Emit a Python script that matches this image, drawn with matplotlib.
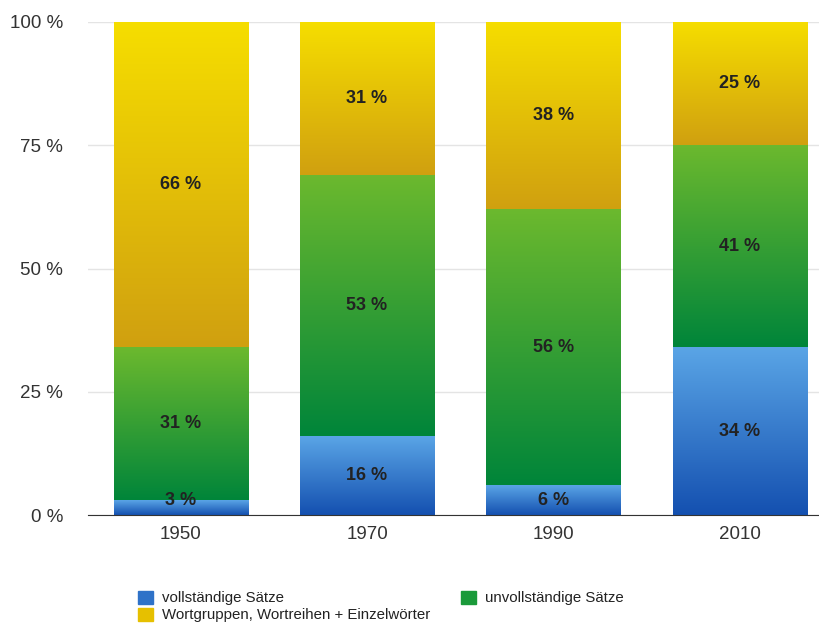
import numpy as np
import matplotlib.pyplot as plt
from matplotlib.colors import LinearSegmentedColormap
from matplotlib.patches import Patch

plt.rcParams['font.family'] = ['Liberation Sans', 'DejaVu Sans']

years = ['1950', '1970', '1990', '2010']
vollstaendig = [3, 16, 6, 34]
unvollstaendig = [31, 53, 56, 41]
wortgruppen = [66, 31, 38, 25]

series_names = ['vollständige Sätze', 'unvollständige Sätze',
                'Wortgruppen, Wortreihen + Einzelwörter']
series_values = [vollstaendig, unvollstaendig, wortgruppen]

# (bottom colour, top colour) of each gradient
gradients = [('#1450b0', '#5aa5e6'),
             ('#00853a', '#6cb92e'),
             ('#d0a010', '#f6de00')]
legend_colors = ['#2f72c8', '#1a9a3a', '#e6c000']

fig = plt.figure(figsize=(8.2, 6.28), dpi=100)
ax = fig.add_axes([88 / 820, 1 - 515 / 628, 732 / 820, 493 / 628])

x = np.arange(len(years))
width = 0.72
bottoms = np.zeros(len(years))
grad = np.linspace(0, 1, 256).reshape(-1, 1)

for vals, (c0, c1) in zip(series_values, gradients):
    cmap = LinearSegmentedColormap.from_list('g', [c0, c1])
    for xi, v, b in zip(x, vals, bottoms):
        ax.imshow(grad, cmap=cmap, origin='lower', aspect='auto',
                  extent=[xi - width / 2, xi + width / 2, b, b + v],
                  interpolation='bicubic', zorder=2)
        ypos = b + 3 if v < 6 else b + v / 2
        ax.text(xi, ypos, f'{v} %', ha='center', va='center',
                fontsize=13, fontweight='bold', color='#222222', zorder=3)
    bottoms += np.array(vals)

ax.set_xlim(-0.497, 3.43)
ax.set_ylim(0, 100)
ax.set_yticks([0, 25, 50, 75, 100])
ax.set_yticklabels([f'{t} %' for t in [0, 25, 50, 75, 100]])
ax.set_xticks(x)
ax.set_xticklabels(years)
ax.tick_params(axis='both', length=0, labelsize=13.5, labelcolor='#333333')
ax.tick_params(axis='y', pad=18)
ax.tick_params(axis='x', pad=8)
ax.grid(axis='y', color='#e4e4e4', lw=1, zorder=0)
ax.set_axisbelow(True)
for s in ['top', 'right', 'left']:
    ax.spines[s].set_visible(False)
ax.spines['bottom'].set_color('#333333')
ax.spines['bottom'].set_zorder(4)

handles = [Patch(color=legend_colors[i], label=series_names[i]) for i in [0, 2, 1]]
fig.legend(handles=handles, loc='upper left', bbox_to_anchor=(124 / 820, 1 - 577 / 628),
           ncol=2, frameon=False, fontsize=10.8, handlelength=1.0, handleheight=1.0,
           handletextpad=0.6, columnspacing=2.1, labelspacing=0.15, labelcolor='#222222')

fig.savefig('out.png', dpi=100)
